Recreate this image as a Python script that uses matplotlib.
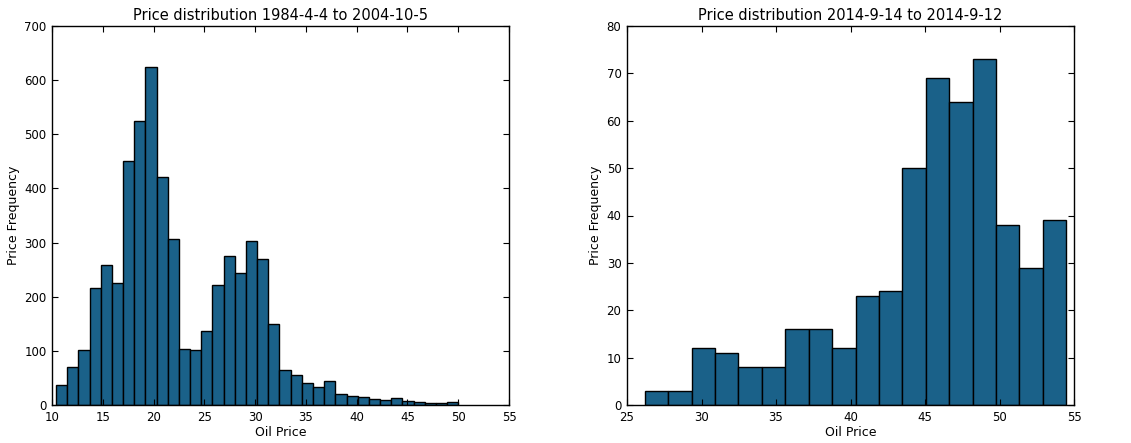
import numpy as np
import matplotlib
matplotlib.use("Agg")
import matplotlib.pyplot as plt

# ---- data ----
left_title = "Price distribution 1984-4-4 to 2004-10-5"
left_bin_start = 10.4
left_bin_width = 1.1
left_counts = [37, 70, 102, 217, 259, 225, 450, 524, 624, 422, 307, 103,
               101, 136, 221, 276, 243, 303, 270, 150, 65, 55, 41, 34,
               44, 20, 16, 14, 12, 9, 13, 7, 5, 3, 4, 6]

right_title = "Price distribution 2014-9-14 to 2014-9-12"
right_bin_start = 26.19
right_bin_width = 1.572
right_counts = [3, 3, 12, 11, 8, 8, 16, 16, 12, 23, 24, 50, 69, 64, 73, 38, 29, 39]

left_xticks = [10, 15, 20, 25, 30, 35, 40, 45, 50, 55]
left_yticks = [0, 100, 200, 300, 400, 500, 600, 700]
right_xticks = [25, 30, 35, 40, 45, 50, 55]
right_yticks = [0, 10, 20, 30, 40, 50, 60, 70, 80]

xlabel = "Oil Price"
ylabel = "Price Frequency"

BAR = "#1a6189"

fig = plt.figure(figsize=(11.31, 4.43), dpi=100)
W, H = 1131, 443
ax1 = fig.add_axes([52 / W, (H - 405) / H, 457 / W, 379 / H])
ax2 = fig.add_axes([627 / W, (H - 405) / H, 447 / W, 379 / H])


def draw(ax, start, width, counts, title, xt, yt):
    counts = np.asarray(counts, dtype=float)
    edges = start + width * np.arange(len(counts) + 1)
    ax.hist(edges[:-1] + width / 2, bins=edges, weights=counts,
            facecolor=BAR, edgecolor="black", linewidth=1.0)
    ax.set_xlim(xt[0], xt[-1])
    ax.set_ylim(yt[0], yt[-1])
    ax.set_xticks(xt)
    ax.set_yticks(yt)
    ax.tick_params(direction="in", top=True, right=True, length=4,
                   width=0.8, labelsize=8.5, colors="black")
    ax.tick_params(axis="x", pad=4)
    ax.tick_params(axis="y", pad=4)
    for s in ax.spines.values():
        s.set_linewidth(1.0)
        s.set_color("black")
    ax.set_title(title, fontsize=10.5, pad=4)
    ax.set_xlabel(xlabel, fontsize=9, labelpad=2)
    ax.set_ylabel(ylabel, fontsize=9, labelpad=3)


draw(ax1, left_bin_start, left_bin_width, left_counts, left_title,
     left_xticks, left_yticks)
draw(ax2, right_bin_start, right_bin_width, right_counts, right_title,
     right_xticks, right_yticks)

fig.savefig("out.png", dpi=100)
